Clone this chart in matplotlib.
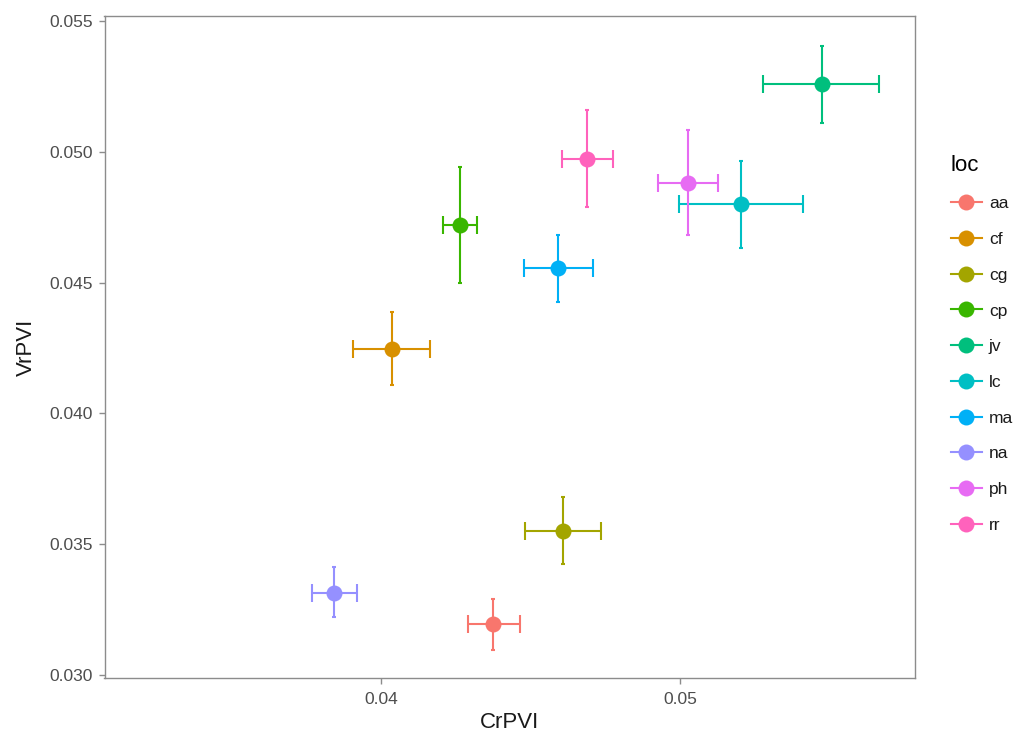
import matplotlib
matplotlib.use("Agg")
import matplotlib.pyplot as plt
from matplotlib.lines import Line2D

plt.rcParams['font.family'] = ['Liberation Sans', 'DejaVu Sans']

locs = ['aa', 'cf', 'cg', 'cp', 'jv', 'lc', 'ma', 'na', 'ph', 'rr']
colors = ['#F8766D', '#D89000', '#A3A500', '#39B600', '#00BF7D',
          '#00BFC4', '#00B0F6', '#9590FF', '#E76BF3', '#FF62BC']
cr = [0.043729, 0.040351, 0.046070, 0.042625, 0.054732,
      0.052023, 0.045903, 0.038411, 0.050251, 0.046873]
cr_min = [0.042893, 0.039047, 0.044799, 0.042057, 0.052759,
          0.049950, 0.044766, 0.037676, 0.049248, 0.046037]
cr_max = [0.044632, 0.041622, 0.047341, 0.043194, 0.056639,
          0.054097, 0.047074, 0.039181, 0.051254, 0.047742]
vr = [0.031950, 0.042462, 0.035505, 0.047202, 0.052592,
      0.048005, 0.045558, 0.033135, 0.048807, 0.049725]
vr_min = [0.030956, 0.041086, 0.034243, 0.044985, 0.051101,
          0.046323, 0.044259, 0.032217, 0.046820, 0.047890]
vr_max = [0.032905, 0.043876, 0.036804, 0.049419, 0.054044,
          0.049648, 0.046820, 0.034128, 0.050833, 0.051598]

fig = plt.figure(figsize=(10.21, 7.38), dpi=100)
ax = fig.add_axes([104.5/1021, 1-678/738, (915-104.5)/1021, (678-16)/738])

for i, name in enumerate(locs):
    c = colors[i]
    ax.errorbar(cr[i], vr[i], yerr=[[vr[i]-vr_min[i]], [vr_max[i]-vr[i]]],
                fmt='none', ecolor=c, elinewidth=1.5, capsize=1.2, capthick=1.5, zorder=2)
    ax.errorbar(cr[i], vr[i], xerr=[[cr[i]-cr_min[i]], [cr_max[i]-cr[i]]],
                fmt='none', ecolor=c, elinewidth=1.5, capsize=6.5, capthick=1.5, zorder=2)
    ax.plot(cr[i], vr[i], 'o', color=c, markersize=11.5, markeredgewidth=0, zorder=3)

ax.set_xlim(0.030736, 0.057843)
ax.set_ylim(0.029885, 0.055191)
ax.set_xticks([0.04, 0.05])
ax.set_xticklabels(['0.04', '0.05'])
ax.set_yticks([0.030, 0.035, 0.040, 0.045, 0.050, 0.055])
ax.set_yticklabels(['0.030', '0.035', '0.040', '0.045', '0.050', '0.055'])

for s in ax.spines.values():
    s.set_color('#8C8C8C')
    s.set_linewidth(1.0)
ax.tick_params(colors='#8C8C8C', labelcolor='#4D4D4D', labelsize=12.5,
               length=4, width=1.0)
ax.tick_params(axis='x', pad=6)
ax.tick_params(axis='y', pad=4.5)
ax.set_xlabel('CrPVI', fontsize=16, color='#1A1A1A', labelpad=4)
ax.set_ylabel('VrPVI', fontsize=16, color='#1A1A1A', labelpad=9)

handles = [Line2D([0], [0], color=c, marker='o', markersize=11.5, markeredgewidth=0,
                  linewidth=1.5) for c in colors]
leg = fig.legend(handles, locs, loc='upper left', bbox_to_anchor=(935/1021, 1-139/738),
                 frameon=False, title='loc', fontsize=12.5, title_fontsize=16,
                 labelspacing=1.185, handlelength=1.8, handletextpad=0.4,
                 alignment='left')
for t in leg.get_texts():
    t.set_color('#1A1A1A')

fig.savefig('out.png', dpi=100, facecolor='white')
